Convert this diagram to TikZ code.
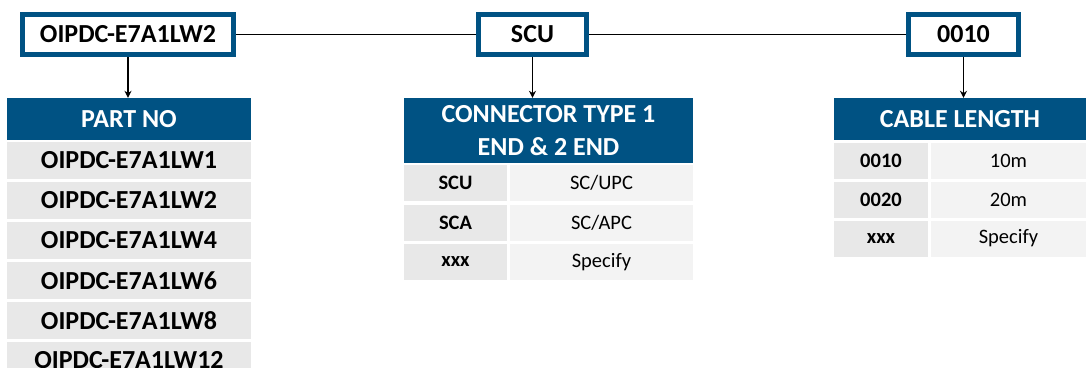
\documentclass[tikz,border=0pt]{standalone}
\usepackage{fontspec}
\setmainfont{Carlito}
\usetikzlibrary{arrows.meta}
\definecolor{hdrblue}{RGB}{0,82,131}
\definecolor{keygray}{RGB}{232,232,232}
\definecolor{valgray}{RGB}{243,243,243}

\begin{document}
\begin{tikzpicture}[x=1pt,y=-1pt,
		codebox/.style={draw=hdrblue,line width=5pt,fill=white,inner sep=0pt,minimum height=40pt,font=\bfseries\fontsize{26}{30}\selectfont},
		hdr/.style={fill=hdrblue,text=white,inner sep=0pt,align=center,font=\bfseries\fontsize{26}{33}\selectfont},
		partrow/.style={fill=keygray,inner sep=0pt,minimum width=244pt,minimum height=37pt,font=\bfseries\fontsize{26}{30}\selectfont},
		keycell/.style={fill=keygray,inner sep=0pt,minimum height=36pt,font=\bfseries\fontsize{20.5}{24}\selectfont},
		valcell/.style={fill=valgray,inner sep=0pt,minimum height=36pt,font=\fontsize{20.5}{24}\selectfont},
		link/.style={line width=1.3pt},
		down/.style={line width=1.3pt,-{Stealth[length=7pt,width=7pt]}}]
		\clip (0,0) rectangle (1086,367);
		
		\node[codebox,minimum width=211pt] (pn) at (128,34.5) {OIPDC-E7A1LW2};
		\node[codebox,minimum width=108pt] (con) at (532.5,34.5) {SCU};
		\node[codebox,minimum width=110pt] (len) at (963.5,34.5) {0010};
		\draw[link] (pn.east) -- (con.west) (con.east) -- (len.west);
		
		\node[hdr,minimum width=244pt,minimum height=42pt] (hdrpn) at (129,119) {PART NO};
		\node[hdr,minimum width=289pt,minimum height=65pt] (hdrcon) at (548.5,130.5) {CONNECTOR TYPE 1\\END \& 2 END};
		\node[hdr,minimum width=252pt,minimum height=42pt] (hdrlen) at (960,119) {CABLE LENGTH};
		
		\draw[down] (pn.south) -- (pn.south |- hdrpn.north);
		\draw[down] (con.south) -- (con.south |- hdrcon.north);
		\draw[down] (len.south) -- (len.south |- hdrlen.north);
		
		\foreach \n [count=\i] in {1,2,4,6,8,12}
			\node[partrow] (pn\i) at (129,{160.5+40*(\i-1)}) {OIPDC-E7A1LW\n};
		
		\foreach \k/\v [count=\i] in {SCU/{SC/UPC},SCA/{SC/APC},xxx/Specify}{
			\node[keycell,minimum width=103pt] (conkey\i) at (455.5,{183+39.5*(\i-1)}) {\k};
			\node[valcell,minimum width=183pt] (conval\i) at (601.5,{183+39.5*(\i-1)}) {\v};
		}
		
		\foreach \k/\v [count=\i] in {0010/10m,0020/20m,xxx/Specify}{
			\node[keycell,minimum width=94pt] (lenkey\i) at (881,{160.5+39*(\i-1)}) {\k};
			\node[valcell,minimum width=155pt] (lenval\i) at (1008.5,{160.5+39*(\i-1)}) {\v};
		}
	\end{tikzpicture}
\end{document}
